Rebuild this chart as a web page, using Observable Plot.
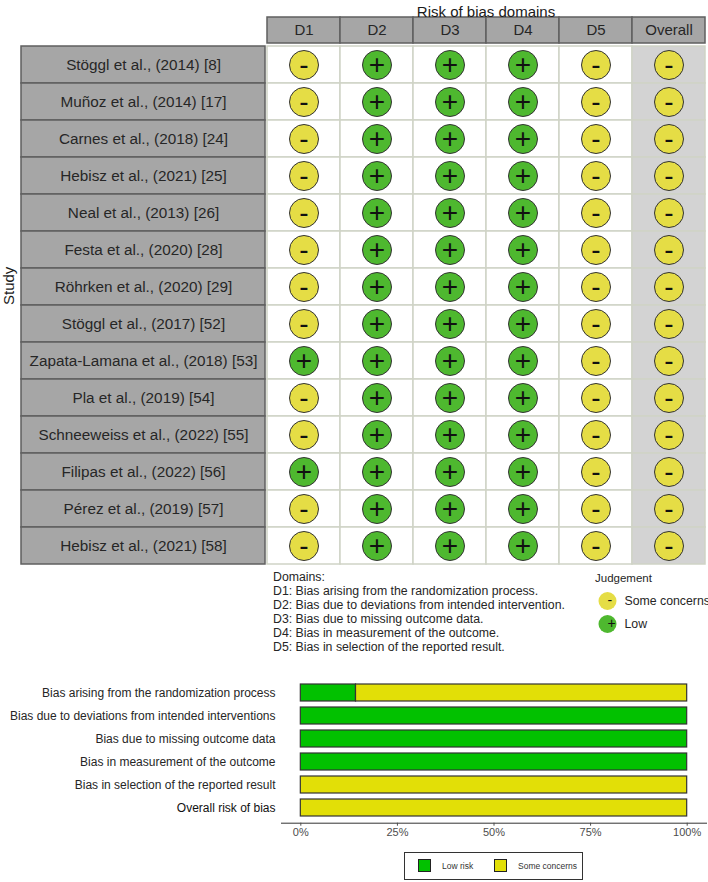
<!DOCTYPE html>
<html><head><meta charset="utf-8">
<script src="https://cdn.jsdelivr.net/npm/d3@7"></script>
<script src="https://cdn.jsdelivr.net/npm/@observablehq/plot@0.6"></script>
<style>
html,body{margin:0;padding:0;background:#fff}
#page{position:relative;width:708px;height:882px;overflow:hidden;font-family:"Liberation Sans",sans-serif}
#page>svg,#page>div{position:absolute}
</style></head><body><div id="page"></div>
<script>
const studies = ["Stöggl et al., (2014) [8]","Muñoz et al., (2014) [17]","Carnes et al., (2018) [24]","Hebisz et al., (2021) [25]","Neal et al., (2013) [26]","Festa et al., (2020) [28]","Röhrken et al., (2020) [29]","Stöggl et al., (2017) [52]","Zapata-Lamana et al., (2018) [53]","Pla et al., (2019) [54]","Schneeweiss et al., (2022) [55]","Filipas et al., (2022) [56]","Pérez et al., (2019) [57]","Hebisz et al., (2021) [58]"];
const domains = ["D1","D2","D3","D4","D5","Overall"];
const D1 = ["S","S","S","S","S","S","S","S","L","S","S","L","S","S"];
const D2 = ["L","L","L","L","L","L","L","L","L","L","L","L","L","L"];
const D3 = ["L","L","L","L","L","L","L","L","L","L","L","L","L","L"];
const D4 = ["L","L","L","L","L","L","L","L","L","L","L","L","L","L"];
const D5 = ["S","S","S","S","S","S","S","S","S","S","S","S","S","S"];
const Overall = ["S","S","S","S","S","S","S","S","S","S","S","S","S","S"];
const domainNotes = ["Domains:","D1: Bias arising from the randomization process.","D2: Bias due to deviations from intended intervention.","D3: Bias due to missing outcome data.","D4: Bias in measurement of the outcome.","D5: Bias in selection of the reported result."];
const summaryLabels = ["Bias arising from the randomization process","Bias due to deviations from intended interventions","Bias due to missing outcome data","Bias in measurement of the outcome","Bias in selection of the reported result","Overall risk of bias"];
const judgeNames = {S:"Some concerns",L:"Low"};
const judgeSymbols = {S:"-",L:"+"};
const judgeColors = {S:"#e5dd45",L:"#4eb82f"};
const summaryNames = {L:"Low risk",S:"Some concerns"};
const summaryColors = {L:"#02c100",S:"#e2df07"};

const columns = [D1,D2,D3,D4,D5,Overall];
const cells = domains.flatMap((d,i)=>studies.map((s,j)=>({domain:d,study:s,j:columns[i][j]})));
const summary = summaryLabels.flatMap((label,i)=>["L","S"].map(j=>({label,j,share:columns[i].filter(v=>v===j).length/studies.length})));
const font = {fontFamily:'"Liberation Sans",sans-serif',background:"transparent",overflow:"visible"};
const page = document.getElementById("page");
function place(node,left,top){node.style.left=left+"px";node.style.top=top+"px";page.appendChild(node);}

// study strip
place(Plot.plot({width:265,height:566,marginLeft:21,marginRight:0,marginTop:43,marginBottom:0,style:font,
  x:{type:"band",domain:["Study"],axis:null,padding:0},
  y:{type:"band",domain:studies,axis:null,padding:0},
  marks:[
    Plot.cell(studies,{x:()=>"Study",y:d=>d,fill:"#a6a6a6",stroke:"#5f5f5f",strokeWidth:1.5}),
    Plot.text(studies,{x:()=>"Study",y:d=>d,text:d=>d,fontSize:15.3,fill:"#262626"}),
    Plot.text(["Study"],{frameAnchor:"left",dx:-12,rotate:-90,fontSize:15,fill:"#1a1a1a"})
  ]}),0,0);

// header strip
place(Plot.plot({width:708,height:43,marginLeft:265,marginRight:2,marginTop:17,marginBottom:0,style:font,
  x:{type:"band",domain:domains,axis:null,padding:0},
  y:{type:"band",domain:["Risk of bias domains"],axis:null,padding:0},
  marks:[
    Plot.cell(domains,{x:d=>d,y:()=>"Risk of bias domains",fill:"#a6a6a6",stroke:"#5f5f5f",strokeWidth:1.5}),
    Plot.text(domains,{x:d=>d,y:()=>"Risk of bias domains",text:d=>d,fontSize:15,fill:"#262626"}),
    Plot.text(["Risk of bias domains"],{frameAnchor:"top",dy:-11,fontSize:15,fill:"#1a1a1a"})
  ]}),0,0);

// traffic light grid
place(Plot.plot({width:708,height:566,marginLeft:265,marginRight:2,marginTop:43,marginBottom:0,style:font,
  x:{type:"band",domain:domains,axis:null,padding:0},
  y:{type:"band",domain:studies,axis:null,padding:0},
  r:{type:"identity"},
  marks:[
    Plot.cell(cells,{x:"domain",y:"study",fill:d=>d.domain==="Overall"?"#d3d3d3":"#ffffff",stroke:"#cfd3c6",strokeWidth:1.5}),
    Plot.dot(cells,{x:"domain",y:"study",r:14.5,fill:d=>judgeColors[d.j],stroke:"#333333",strokeWidth:1}),
    Plot.text(cells,{x:"domain",y:"study",text:d=>judgeSymbols[d.j],fontSize:28,fontWeight:d=>d.j==="S"?"bold":"normal",fill:"#111111"})
  ]}),0,0);

// judgement legend
const legendKeys = ["S","L"];
place(Plot.plot({width:118,height:46,margin:0,style:font,
  x:{axis:null},
  y:{type:"band",domain:legendKeys,axis:null,padding:0},
  marks:[
    Plot.dot(legendKeys,{y:d=>d,frameAnchor:"left",dx:17,r:9,fill:d=>judgeColors[d]}),
    Plot.text(legendKeys,{y:d=>d,frameAnchor:"left",dx:17,text:d=>judgeSymbols[d],fontSize:14,fill:"#111"}),
    Plot.text(legendKeys,{y:d=>d,frameAnchor:"left",dx:34,textAnchor:"start",text:d=>judgeNames[d],fontSize:12.3,fill:"#262626"})
  ]}),590,589);

const jt=document.createElement("div");
jt.textContent="Judgement";
jt.style.cssText="font-size:11.5px;color:#262626;line-height:14px";
place(jt,595,571);

const notes=document.createElement("div");
notes.innerHTML=domainNotes.map(t=>`<div>${t}</div>`).join("");
notes.style.cssText="font-size:12.3px;line-height:14px;color:#262626;white-space:nowrap";
place(notes,273,570);

// summary bars
place(Plot.plot({width:708,height:212,marginLeft:281,marginRight:2,marginTop:7.7,marginBottom:59.3,style:font,
  x:{domain:[-0.05,1.05],ticks:[0,.25,.5,.75,1],tickFormat:d=>Math.round(d*100)+"%",label:null},
  y:{type:"band",domain:summaryLabels,axis:null,paddingInner:.27,paddingOuter:.245},
  marks:[
    Plot.barX(summary,{x:"share",y:"label",order:["L","S"],z:"j",fill:d=>summaryColors[d.j],stroke:"#333333",strokeWidth:1.2}),
    Plot.text(summaryLabels,{y:d=>d,frameAnchor:"left",textAnchor:"end",dx:-6,text:d=>d,fontSize:12,fontWeight:d=>d==="Overall risk of bias"?"bold":"normal",fill:d=>d==="Overall risk of bias"?"#111":"#262626"}),
    Plot.frame({anchor:"bottom",stroke:"#333333"}),
    Plot.axisX({ticks:[0,.25,.5,.75,1],tickFormat:d=>Math.round(d*100)+"%",tickSize:3,tickPadding:2,fontSize:11,color:"#4d4d4d",label:null})
  ]}),0,670);

// summary legend
const lg=document.createElement("div");
lg.style.cssText="width:177px;height:26px;border:1px solid #333;background:#fff;font-size:8.5px;color:#333";
["L","S"].forEach((k,i)=>{
  const sw=document.createElement("div");
  sw.style.cssText=`position:absolute;left:${13+i*76}px;top:6px;width:11px;height:11px;background:${summaryColors[k]};border:1px solid #222`;
  const t=document.createElement("div");
  t.textContent=summaryNames[k];
  t.style.cssText=`position:absolute;left:${37+i*76}px;top:8px;line-height:10px;white-space:nowrap`;
  lg.append(sw,t);
});
place(lg,404,852);
</script></body></html>
